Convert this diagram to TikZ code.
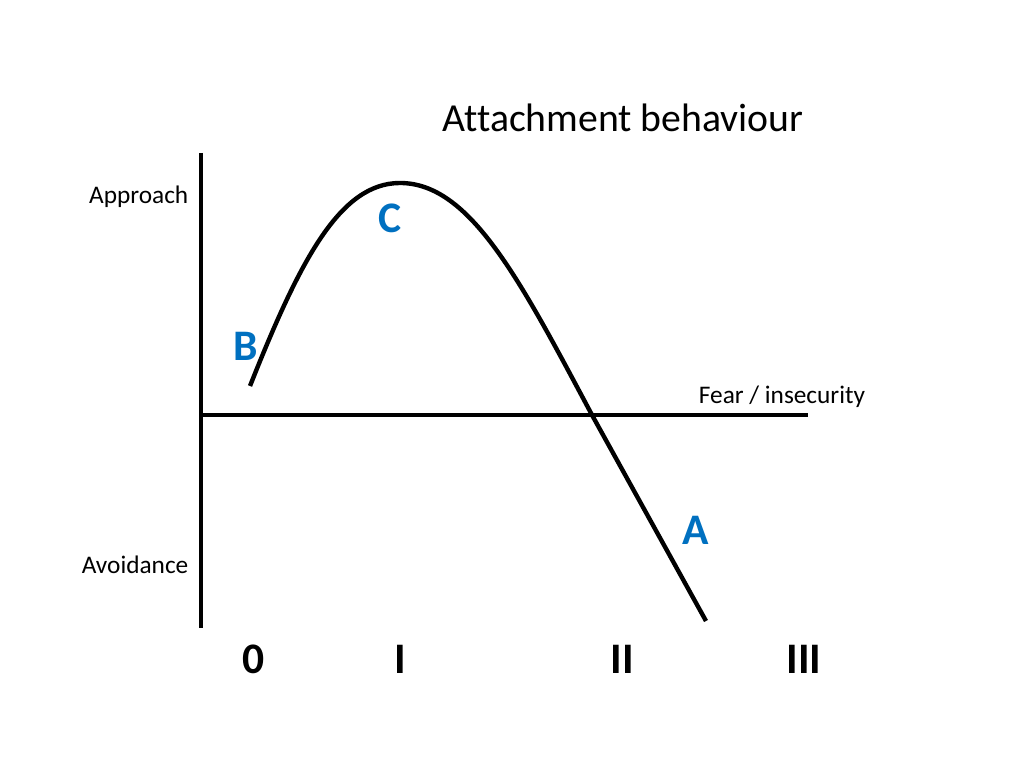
\documentclass[tikz,border=0pt]{standalone}
\usepackage{fontspec}
\setmainfont[Ligatures=NoCommon]{Carlito}
\usetikzlibrary{positioning}
\definecolor{labelblue}{RGB}{0,112,192}

\begin{document}
\begin{tikzpicture}[
    axis/.style={line width=0.9pt},
    curve/.style={line width=1.25pt},
    small/.style={font=\fontsize{7.2}{8}\selectfont, inner sep=0pt},
    title/.style={font=\fontsize{11.3}{13}\selectfont, inner sep=0pt},
    letter/.style={font=\fontsize{12.4}{14}\selectfont\bfseries, text=labelblue, inner sep=0pt},
    level/.style={font=\fontsize{12.4}{14}\selectfont\bfseries, inner sep=0pt}
  ]
    \useasboundingbox (0,0) rectangle (10.24,7.68);

    % Define coordinates
    \coordinate (ytop) at (2.01,6.15);
    \coordinate (ybot) at (2.01,1.40);
    \coordinate (xleft) at (2.03,3.53);
    \coordinate (xright) at (8.08,3.53);
    \coordinate (start) at (2.50,3.82);
    \coordinate (peak) at (4.00,5.85);
    \coordinate (cross) at (5.92,3.53);
    \coordinate (stop) at (7.06,1.47);

    % Define nodes
    \node[title]                 (ttl)  at (6.23,6.50) {Attachment behaviour};
    \node[small, anchor=east]    (appr) at (1.89,5.71) {Approach};
    \node[small, anchor=east]    (avoi) at (1.89,2.03) {Avoidance};
    \node[small]                 (fear) at (7.82,3.71) {Fear / insecurity};
    \node[letter]                (b)    at (2.46,4.22) {B};
    \node[letter]                (c)    at (3.90,5.50) {C};
    \node[letter]                (a)    at (6.96,2.38) {A};
    \node[level]                 (l0)   at (2.54,1.09) {0};
    \node[level]                 (l1)   at (4.00,1.09) {I};
    \node[level]                 (l2)   at (6.22,1.09) {II};
    \node[level]                 (l3)   at (8.04,1.09) {III};

    % Connect the nodes
    \draw[axis] (ytop) -- (ybot);
    \draw[axis] (xleft) -- (xright);
    \draw[curve] (start) .. controls (3.00,5.08) and (3.40,5.85) .. (peak)
                         .. controls (4.70,5.85) and (5.20,4.88) .. (cross)
                         -- (stop);
\end{tikzpicture}
\end{document}
